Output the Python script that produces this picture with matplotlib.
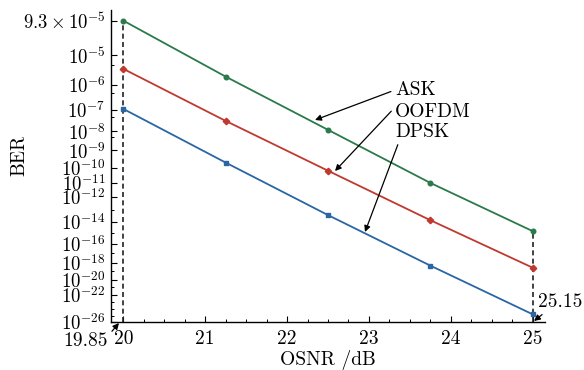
import numpy as np
import matplotlib
matplotlib.use("Agg")
import matplotlib.pyplot as plt
from matplotlib.ticker import FixedLocator

plt.rcParams['font.family'] = 'serif'
plt.rcParams['font.serif'] = ['cmr10', 'DejaVu Serif']
plt.rcParams['mathtext.fontset'] = 'cm'
plt.rcParams['axes.unicode_minus'] = False

# ---- data ----
osnr = [20.0, 21.25, 22.5, 23.75, 25.0]
ber_ask = [9.3e-5, 2.0e-6, 1.2e-8, 1.0e-11, 1.5e-15]
ber_oofdm = [3.7e-6, 3.2e-8, 6.3e-11, 1.4e-14, 2.6e-19]
ber_dpsk = [1.1e-7, 2.0e-10, 3.8e-14, 4.5e-19, 1.6e-25]

ytick_vals = [9.3e-5, 1e-5, 1e-6, 1e-7, 1e-8, 1e-9, 1e-10, 1e-11, 1e-12,
              1e-14, 1e-16, 1e-18, 1e-20, 1e-22, 1e-26]
ytick_labels = [r'$9.3\times10^{-5}$', r'$10^{-5}$', r'$10^{-6}$', r'$10^{-7}$',
                r'$10^{-8}$', r'$10^{-9}$', r'$10^{-10}$', r'$10^{-11}$',
                r'$10^{-12}$', r'$10^{-14}$', r'$10^{-16}$', r'$10^{-18}$',
                r'$10^{-20}$', r'$10^{-22}$', r'$10^{-26}$']
yminor_vals = [5e-6, 5e-7, 5e-8, 5e-9, 1e-13, 1e-15, 1e-17, 1e-19, 1e-21,
               1e-23, 1e-24, 1e-25]
xtick_vals = [20, 21, 22, 23, 24, 25]
series_names = ['ASK', 'OOFDM', 'DPSK']

c_green = '#2b7a4b'
c_red = '#c0392f'
c_blue = '#2966a3'


def fwd(y):
    y = np.clip(np.asarray(y, dtype=float), 1e-300, 0.999999)
    return -np.log10(-np.log10(y))


def inv(v):
    v = np.asarray(v, dtype=float)
    return 10.0 ** (-(10.0 ** (-v)))


W, H = 584, 370
fig = plt.figure(figsize=(W / 100, H / 100), dpi=100)
ax = fig.add_axes([111 / W, (H - 322) / H, (545 - 111) / W, (322 - 10) / H])
ax.set_yscale('function', functions=(fwd, inv))

lw = 1.3
ax.plot(osnr, ber_ask, color=c_green, lw=lw, marker='o', ms=3.3, zorder=3)
ax.plot(osnr, ber_oofdm, color=c_red, lw=lw, marker='D', ms=3.3, zorder=3)
ax.plot(osnr, ber_dpsk, color=c_blue, lw=lw, marker='s', ms=3.3, zorder=3)

ax.set_xlim(19.85, 25.15)
ax.set_ylim(1e-26, 1.68e-4)

# dashed guide lines
ax.plot([osnr[0], osnr[0]], [1e-26, ber_ask[0]], color='#222222', ls=(0, (3, 2)), lw=1.2, zorder=2)
ax.plot([osnr[-1], osnr[-1]], [1e-26, ber_ask[-1]], color='#222222', ls=(0, (3, 2)), lw=1.2, zorder=2)

ax.spines['top'].set_visible(False)
ax.spines['right'].set_visible(False)
for s in ['left', 'bottom']:
    ax.spines[s].set_linewidth(1.0)

ax.xaxis.set_major_locator(FixedLocator(xtick_vals))
ax.xaxis.set_minor_locator(FixedLocator(np.arange(20, 25.01, 0.25)))
ax.set_xticklabels([str(v) for v in xtick_vals])
ax.yaxis.set_major_locator(FixedLocator(ytick_vals))
ax.set_yticklabels(ytick_labels)
ax.yaxis.set_minor_locator(FixedLocator(yminor_vals))

ax.tick_params(which='major', direction='in', length=4, width=0.8, labelsize=14)
ax.tick_params(which='minor', direction='in', length=2.5, width=0.7)
ax.tick_params(axis='x', which='major', pad=6)
ax.tick_params(axis='y', which='major', labelsize=13.5, pad=4)

ax.set_xlabel('OSNR /dB', fontsize=14, labelpad=1)
ax.set_ylabel('BER', fontsize=14)
ax.yaxis.set_label_coords(-0.19, 0.535)

ap = dict(arrowstyle='-|>', color='black', lw=0.9, mutation_scale=9, shrinkA=1, shrinkB=0)
ax.annotate(series_names[0], xy=(315, H - 120), xycoords='figure pixels',
            xytext=(395, H - 90), textcoords='figure pixels', fontsize=14,
            ha='left', va='center', arrowprops=dict(ap, relpos=(0, 0.5)))
ax.annotate(series_names[1], xy=(335, H - 171), xycoords='figure pixels',
            xytext=(395, H - 111.7), textcoords='figure pixels', fontsize=14,
            ha='left', va='center', arrowprops=dict(ap, relpos=(0, 0.75)))
ax.annotate(series_names[2], xy=(365, H - 232), xycoords='figure pixels',
            xytext=(395, H - 131.7), textcoords='figure pixels', fontsize=14,
            ha='left', va='center', arrowprops=dict(ap, relpos=(0.08, 0.0)))

ax.annotate('19.85', xy=(119, H - 323), xycoords='figure pixels',
            xytext=(86, H - 341), textcoords='figure pixels', fontsize=14,
            ha='center', va='center', arrowprops=dict(ap, relpos=(1.0, 0.8)))
ax.annotate('25.15', xy=(534, H - 321), xycoords='figure pixels',
            xytext=(560, H - 302), textcoords='figure pixels', fontsize=14,
            ha='center', va='center', arrowprops=dict(ap, relpos=(0.2, 0.0)))

fig.savefig('out.png', dpi=100)
